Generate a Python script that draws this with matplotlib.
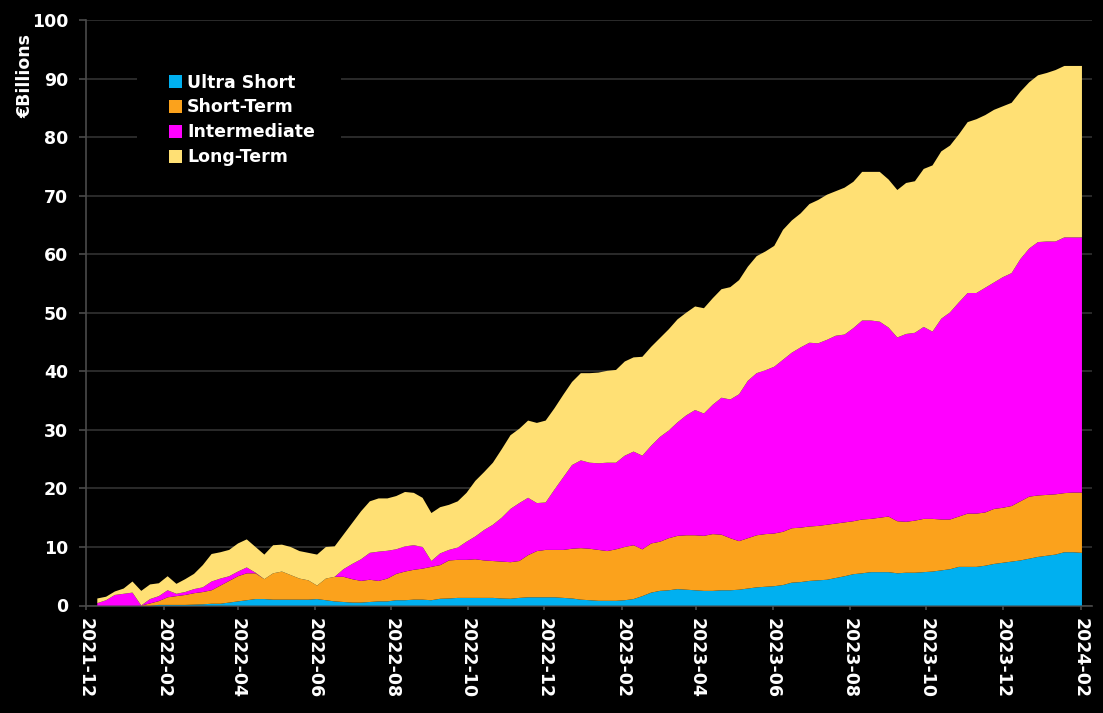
import matplotlib
matplotlib.use("Agg")
import matplotlib.pyplot as plt
import matplotlib.dates as mdates
from matplotlib.patches import Rectangle
import numpy as np
import pandas as pd

# ---- data (EUR billions, weekly) ----
dates = pd.date_range("2021-12-10", periods=113, freq="7D")

ultra_short = [0, 0, 0, 0, 0, 0, 0, 0.1, 0.1, 0.1, 0.1, 0.15, 0.2, 0.3, 0.3, 0.5, 0.7, 0.9, 1.1, 1.1,
               1.0, 1.0, 1.0, 1.0, 1.0, 1.1, 0.9,
               0.7, 0.6, 0.5, 0.5, 0.6, 0.7, 0.7, 0.9, 0.9, 1.0, 1.0, 0.9, 1.15, 1.2, 1.3, 1.3, 1.3, 1.3,
               1.3, 1.2, 1.15, 1.3, 1.4, 1.4, 1.4, 1.4, 1.3, 1.2,
               1.0, 0.9, 0.8, 0.8, 0.8, 0.9, 1.1, 1.6, 2.2, 2.5, 2.6, 2.8, 2.7, 2.6, 2.5, 2.5, 2.6, 2.6,
               2.7, 2.9, 3.1, 3.2, 3.3, 3.5, 3.9, 4.0, 4.2, 4.3, 4.4, 4.7, 5.0, 5.35, 5.5, 5.7, 5.7, 5.7,
               5.5, 5.6, 5.6, 5.7, 5.8, 6.0, 6.2, 6.6, 6.6, 6.6, 6.8, 7.1, 7.3, 7.5, 7.7, 8.0, 8.3, 8.5,
               8.7, 9.1, 9.1, 9.0]

short_term = [0, 0, 0, 0, 0, 0, 0.35, 0.65, 1.3, 1.5, 1.7, 1.95, 2.1, 2.3, 3.1, 3.7, 4.3, 4.6, 4.4, 3.4,
              4.5, 4.8, 4.2, 3.6, 3.3, 2.3, 3.7,
              4.2, 4.3, 4.0, 3.7, 3.8, 3.5, 3.9, 4.5, 4.9, 5.1, 5.3, 5.7, 5.75, 6.5, 6.5, 6.5, 6.6, 6.4,
              6.3, 6.3, 6.25, 6.3, 7.2, 7.9, 8.1, 8.1, 8.2, 8.5,
              8.8, 8.8, 8.7, 8.5, 8.8, 9.1, 9.2, 8.0, 8.4, 8.4, 8.9, 9.1, 9.3, 9.4, 9.4, 9.7, 9.5, 8.9,
              8.3, 8.6, 8.9, 9.0, 9.0, 9.1, 9.3, 9.3, 9.3, 9.3, 9.4, 9.3, 9.2, 9.05, 9.2, 9.1, 9.3, 9.5,
              8.9, 8.7, 8.9, 9.1, 9.0, 8.7, 8.5, 8.6, 9.1, 9.1, 9.1, 9.4, 9.4, 9.5, 10.1, 10.6, 10.5,
              10.4, 10.3, 10.1, 10.2, 10.3]

intermediate = [0.4, 0.9, 1.8, 2.0, 2.2, 0.0, 0.75, 0.85, 1.2, 0.4, 0.5, 0.7, 0.8, 1.5, 1.2, 0.8, 0.8,
                1.0, 0.1, 0, 0, 0, 0, 0, 0, 0, 0,
                0, 1.3, 2.6, 3.7, 4.6, 5.0, 4.75, 4.2, 4.3, 4.2, 3.7, 1.0, 2.0, 1.8, 2.1, 3.1, 3.9, 5.2,
                6.2, 7.5, 9.1, 9.9, 9.8, 8.2, 8.1, 10.3, 12.4, 14.3,
                15.0, 14.7, 14.8, 15.1, 14.8, 15.6, 16.0, 16.0, 16.7, 17.9, 18.4, 19.4, 20.5, 21.4, 20.9,
                22.1, 23.4, 23.7, 25.1, 26.9, 27.7, 28.0, 28.5, 29.4, 30.0, 30.8, 31.4, 31.2, 31.6, 32.1,
                32.1, 33.0, 34.0, 33.9, 33.5, 32.3, 31.4, 32.1, 32.1, 32.8, 32.0, 34.3, 35.4, 36.6, 37.7,
                37.7, 38.4, 38.7, 39.4, 39.8, 41.4, 42.4, 43.3, 43.3, 43.2, 43.7, 43.6, 43.6]

long_term = [0.8, 0.6, 0.6, 0.9, 1.9, 2.5, 2.5, 2.2, 2.4, 1.7, 2.2, 2.6, 3.8, 4.7, 4.5, 4.5, 4.8, 4.8,
             4.4, 4.2, 4.8, 4.6, 4.8, 4.7, 4.7, 5.3, 5.4,
             5.2, 5.9, 7.0, 8.2, 8.8, 9.1, 8.95, 9.1, 9.3, 8.95, 8.4, 8.2, 7.9, 7.7, 7.9, 8.35, 9.5, 9.9,
             10.6, 11.7, 12.6, 12.7, 13.2, 13.7, 14.0, 13.9, 14.1, 14.2,
             14.9, 15.3, 15.5, 15.7, 15.85, 16.1, 16.1, 16.9, 16.9, 16.9, 17.3, 17.6, 17.55, 17.7, 18.0,
             18.2, 18.55, 19.2, 19.5, 19.5, 20.0, 20.3, 20.65, 22.2, 22.6, 22.9, 23.7, 24.5, 24.8, 24.7,
             25.1, 25.0, 25.4, 25.4, 25.6, 25.3, 25.2, 25.8, 25.9, 27.0, 28.4, 28.6, 28.5, 28.7, 29.2,
             29.7, 29.5, 29.5, 29.2, 29.1, 28.6, 28.4, 28.5, 28.8, 29.3, 29.3, 29.3, 29.3]

series_labels = ["Ultra Short", "Short-Term", "Intermediate", "Long-Term"]
series_colors = ["#00B0F0", "#FBA21C", "#FF00FF", "#FFE074"]

y_ticks = [0, 10, 20, 30, 40, 50, 60, 70, 80, 90, 100]
y_label = "€Billions"

# ---- figure ----
W, H = 1103, 713
fig = plt.figure(figsize=(W / 100, H / 100), dpi=100, facecolor="black")
ax = fig.add_axes([86 / W, 1 - 605.5 / H, (1092 - 86) / W, (605.5 - 20.3) / H])
ax.set_facecolor("black")

ax.stackplot(dates, ultra_short, short_term, intermediate, long_term,
             colors=series_colors, labels=series_labels, linewidth=0, zorder=3)

ax.set_ylim(0, 100)
ax.set_yticks(y_ticks)
ax.set_xlim(pd.Timestamp("2021-12-01"), pd.Timestamp("2024-02-10"))
ax.xaxis.set_major_locator(mdates.MonthLocator(bymonth=[2, 4, 6, 8, 10, 12]))
ax.xaxis.set_major_formatter(mdates.DateFormatter("%Y-%m"))

ax.grid(axis="y", color="#2b2b2b", linewidth=1.4, zorder=0)
ax.set_axisbelow(True)
for s in ["top", "right"]:
    ax.spines[s].set_visible(False)
ax.spines["left"].set_color("#4a4a4a")
ax.spines["bottom"].set_color("#4a4a4a")
ax.spines["left"].set_linewidth(1.2)
ax.spines["bottom"].set_linewidth(1.2)

ax.tick_params(axis="y", colors="#4a4a4a", length=5, width=1.2, pad=8,
               labelcolor="white", labelsize=12.5)
ax.tick_params(axis="x", colors="#4a4a4a", length=3, width=1.2, pad=6,
               labelcolor="white", labelsize=12.5, labelrotation=-90)
for lab in ax.get_xticklabels() + ax.get_yticklabels():
    lab.set_fontweight("bold")
for lab in ax.get_xticklabels():
    lab.set_va("top")
    lab.set_ha("center")

fig.text(25 / W, 1 - 76 / H, y_label, rotation=90, color="white",
         fontsize=12.5, fontweight="bold", ha="center", va="center")

# black box behind the legend (hides the gridlines there)
ax.add_patch(Rectangle((137 / W, 1 - 180 / H), (341 - 137) / W, (180 - 50) / H,
                       transform=fig.transFigure, facecolor="black", edgecolor="none",
                       zorder=1, clip_on=False))

leg = ax.legend(loc="upper left", bbox_to_anchor=(169 / W, 1 - 73.5 / H),
                bbox_transform=fig.transFigure, borderaxespad=0, borderpad=0,
                frameon=False, fontsize=12.5, handlelength=0.75, handleheight=0.75,
                handletextpad=0.3, labelspacing=0.4)
leg.set_zorder(5)
for t in leg.get_texts():
    t.set_color("white")
    t.set_fontweight("bold")

fig.savefig("out.png", dpi=100, facecolor="black")
